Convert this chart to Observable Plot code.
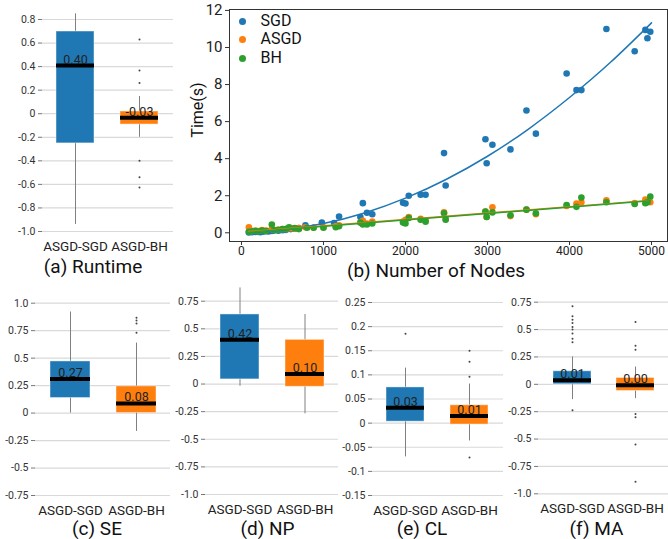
<!DOCTYPE html>
<html><head><meta charset="utf-8">
<script src="https://cdn.jsdelivr.net/npm/d3@7"></script>
<script src="https://cdn.jsdelivr.net/npm/@observablehq/plot@0.6"></script>
<style>
body{margin:0;background:#fff;}
#root{position:relative;width:668px;height:539px;overflow:hidden;font-family:Roboto,sans-serif;color:#222;}
.panel{position:absolute;}
.cap{position:absolute;transform:translate(-50%,-50%);font-size:19px;line-height:1;white-space:nowrap;color:#111;}
.ylab{position:absolute;transform:translate(-50%,-50%) rotate(-90deg);font-size:16px;line-height:1;white-space:nowrap;color:#111;}
.leg{position:absolute;font-size:16px;line-height:1;color:#111;display:flex;align-items:center;transform:translateY(-50%);}
.leg span.sw{display:inline-block;width:7px;height:7px;border-radius:50%;margin-right:15px;margin-left:-3.5px;}
</style></head><body><div id="root"></div><script>
const groups = ["ASGD-SGD","ASGD-BH"];
const boxColors = ["#1f77b4","#ff7f0e"];
// per group: [lower whisker, q1, median, q3, upper whisker]
const runtimeBox = [[-0.94,-0.252,0.409,0.698,0.848],[-0.2,-0.092,-0.035,0.019,0.146]];
const runtimeOutliers = [[],[0.63,0.367,0.26,-0.40,-0.54,-0.626]];
const runtimeLabels = ["0.40","-0.03"];
const runtimeTicks = [0.8,0.6,0.4,0.2,0,-0.2,-0.4,-0.6,-0.8,-1.0];

const seBox = [[0.0,0.137,0.31,0.47,0.92],[-0.167,0.0,0.088,0.243,0.637]];
const seOutliers = [[],[0.73,0.816,0.843,0.867]];
const seLabels = ["0.27","0.08"];
const seTicks = [1.0,0.75,0.5,0.25,0,-0.25,-0.5,-0.75];

const npBox = [[-0.02,0.042,0.40,0.63,0.87],[-0.27,-0.025,0.09,0.40,0.63]];
const npOutliers = [[],[]];
const npLabels = ["0.42","0.10"];
const npTicks = [0.75,0.5,0.25,0,-0.25,-0.5,-0.75,-1.0];

const clBox = [[-0.07,0.003,0.032,0.074,0.114],[-0.037,-0.003,0.015,0.037,0.081]];
const clOutliers = [[0.185],[0.15,0.127,0.096,-0.071]];
const clLabels = ["0.03","0.01"];
const clTicks = [0.25,0.2,0.15,0.1,0.05,0,-0.05,-0.1,-0.15];

const maBox = [[-0.14,0.0,0.037,0.119,0.25],[-0.131,-0.061,-0.009,0.058,0.158]];
const maOutliers = [[0.712,0.621,0.59,0.56,0.524,0.5,0.463,0.417,0.384,-0.237],[0.57,0.353,0.316,-0.27,-0.3,-0.55,-0.89]];
const maLabels = ["0.01","0.00"];
const maTicks = [0.75,0.5,0.25,0,-0.25,-0.5,-0.75,-1.0];

// scatter: [number of nodes, time (s)]
const sgdPoints = [[90,0.02],[130,0.03],[170,0.04],[200,0.05],[230,0.03],[260,0.06],[300,0.08],[330,0.07],[370,0.1],[400,0.12],[450,0.11],[500,0.14],[540,0.15],[600,0.2],[650,0.22],[700,0.25],[780,0.4],[980,0.55],[1130,0.52],[1190,0.88],[1450,0.85],[1480,1.6],[1530,1.08],[1595,1.0],[1970,1.62],[2000,1.58],[2040,2.0],[2185,2.05],[2245,2.05],[2470,4.3],[2490,2.55],[2975,5.05],[2990,3.75],[3060,4.75],[3280,4.5],[3475,6.6],[3590,5.35],[3965,8.6],[4085,7.7],[4145,7.7],[4450,11.0],[4795,9.8],[4925,10.95],[4950,10.5],[4985,10.85]];
const asgdPoints = [[90,0.3],[130,0.1],[170,0.12],[200,0.1],[250,0.15],[300,0.12],[370,0.2],[400,0.15],[450,0.18],[500,0.2],[550,0.2],[600,0.25],[650,0.22],[700,0.25],[780,0.3],[880,0.28],[1000,0.3],[1150,0.35],[1190,0.4],[1450,0.55],[1480,0.65],[1530,0.5],[1595,0.6],[1970,0.6],[2000,0.7],[2040,0.85],[2185,0.75],[2245,0.65],[2470,1.1],[2490,0.75],[2975,1.15],[2990,0.85],[3060,1.38],[3280,0.9],[3475,1.25],[3590,1.0],[3965,1.45],[4085,1.58],[4145,1.65],[4450,1.75],[4795,1.6],[4925,1.8],[4950,1.7],[4985,1.65]];
const bhPoints = [[90,0.05],[130,0.08],[170,0.1],[200,0.07],[250,0.12],[300,0.1],[370,0.45],[400,0.15],[450,0.15],[500,0.2],[550,0.22],[580,0.3],[650,0.25],[700,0.2],[800,0.27],[880,0.27],[1000,0.27],[1150,0.3],[1190,0.35],[1450,0.55],[1480,0.45],[1530,0.45],[1595,0.5],[1970,0.55],[2000,0.5],[2040,0.8],[2185,0.7],[2245,0.6],[2470,1.05],[2490,0.7],[2975,1.15],[2990,0.85],[3060,1.1],[3280,0.95],[3475,1.25],[3590,1.05],[3965,1.5],[4085,1.4],[4145,1.9],[4450,1.65],[4795,1.55],[4925,1.6],[4950,1.65],[4985,1.95]];
// SGD fitted curve
const sgdFit = [[90,0.03],[500,0.15],[1000,0.5],[1500,1.07],[2000,1.87],[2500,2.89],[3000,4.13],[3500,5.6],[4000,7.3],[4500,9.2],[5000,11.33]];
const nodeTicks = [0,1000,2000,3000,4000,5000];
const timeTicks = [0,2,4,6,8,10,12];
const seriesNames = ["SGD","ASGD","BH"];
const seriesColors = ["#1f77b4","#ff7f0e","#2ca02c"];

const root = document.getElementById("root");
const fmt = d => d === 0 ? "0" : Number.isInteger(d) ? d.toFixed(1) : String(d);

function boxPlot({box, outliers, labels, ticks, width, height, mt, mb, ml, mr, pad}) {
  const rows = groups.map((g,i)=>({g, lo:box[i][0], q1:box[i][1], med:box[i][2], q3:box[i][3], hi:box[i][4], label:labels[i], color:boxColors[i]}));
  const outs = groups.flatMap((g,i)=>outliers[i].map(v=>({g, v})));
  return Plot.plot({
    width, height, marginTop:mt, marginBottom:mb, marginLeft:ml, marginRight:mr,
    style:{fontFamily:"Roboto, sans-serif", background:"transparent", overflow:"visible"},
    x:{type:"band", domain:groups, paddingInner:0.4, paddingOuter:0.22, axis:null},
    y:{domain:[d3.min(ticks), d3.max(ticks)], axis:null},
    color:{type:"identity"},
    marks:[
      Plot.gridY(ticks, {stroke:"#d9d9d9", strokeOpacity:1, strokeWidth:1.2}),
      Plot.axisY(ticks, {tickSize:4, tickPadding:3, fontSize:10.5, tickFormat:fmt, stroke:"#777", fill:"#333", label:null}),
      Plot.axisX({tickSize:0, tickPadding:pad, fontSize:13.5, label:null, fill:"#222"}),
      Plot.ruleX(rows, {x:"g", y1:"lo", y2:"hi", stroke:"#808080", strokeWidth:1}),
      Plot.barY(rows, {x:"g", y1:"q1", y2:"q3", fill:"color", stroke:"white", strokeOpacity:0.45, strokeWidth:1}),
      Plot.tickY(rows, {x:"g", y:"med", stroke:"black", strokeWidth:4}),
      Plot.text(rows, {x:"g", y:"med", text:"label", lineAnchor:"bottom", dy:-2, fontSize:12.5, fill:"#222"}),
      Plot.dot(outs, {x:"g", y:"v", r:1, fill:"#444", stroke:null})
    ]
  });
}

function place(el, left, top) {
  el.classList.add("panel");
  el.style.left = left + "px"; el.style.top = top + "px";
  root.appendChild(el);
}
function caption(text, cx, cy, cls="cap", size) {
  const d = document.createElement("div");
  d.className = cls; d.textContent = text;
  d.style.left = cx + "px"; d.style.top = cy + "px";
  if (size) d.style.fontSize = size + "px";
  root.appendChild(d);
}

// (a)
place(boxPlot({box:runtimeBox, outliers:runtimeOutliers, labels:runtimeLabels, ticks:runtimeTicks,
  width:180, height:262, mt:19, mb:31, ml:42, mr:7, pad:10}), 0, 0);

// (b)
const toRows = pts => pts.map(([x,y])=>({x,y}));
const scatter = Plot.plot({
  width:488, height:280, marginTop:9, marginBottom:39, marginLeft:49, marginRight:1,
  style:{fontFamily:"Roboto, sans-serif", background:"transparent", overflow:"visible"},
  x:{domain:[-146,5195], axis:null},
  y:{domain:[-0.47,12.05], axis:null},
  marks:[
    Plot.frame({stroke:"#333", strokeWidth:1}),
    Plot.axisY(timeTicks, {tickSize:4, tickPadding:3, fontSize:15, label:null, fill:"#222", stroke:"#333"}),
    Plot.axisX(nodeTicks, {tickSize:4, tickPadding:1, fontSize:12, label:null, fill:"#222", stroke:"#333", tickFormat:d=>String(d)}),
    Plot.dot(toRows(sgdPoints), {x:"x", y:"y", r:3.3, fill:seriesColors[0], stroke:null}),
    Plot.dot(toRows(asgdPoints), {x:"x", y:"y", r:3.3, fill:seriesColors[1], stroke:null}),
    Plot.dot(toRows(bhPoints), {x:"x", y:"y", r:3.3, fill:seriesColors[2], stroke:null}),
    Plot.line(toRows(sgdFit), {x:"x", y:"y", stroke:seriesColors[0], strokeWidth:1.5, curve:"natural"}),
    Plot.linearRegressionY(toRows(asgdPoints), {x:"x", y:"y", stroke:seriesColors[1], strokeWidth:1.5, ci:0}),
    Plot.linearRegressionY(toRows(bhPoints), {x:"x", y:"y", stroke:seriesColors[2], strokeWidth:1.5, ci:0})
  ]
});
place(scatter, 180, 0);
caption("Time(s)", 198, 110, "ylab");
seriesNames.forEach((n,i)=>{
  const d = document.createElement("div");
  d.className = "leg";
  d.style.left = "242px"; d.style.top = [21,39,58][i] + "px";
  d.innerHTML = `<span class="sw" style="background:${seriesColors[i]}"></span>${n}`;
  root.appendChild(d);
});

// (c)-(f)
place(boxPlot({box:seBox, outliers:seOutliers, labels:seLabels, ticks:seTicks,
  width:170, height:259, mt:22.7, mb:44, ml:35, mr:0, pad:9.5}), 0, 280);
place(boxPlot({box:npBox, outliers:npOutliers, labels:npLabels, ticks:npTicks,
  width:168, height:259, mt:20.7, mb:45, ml:35, mr:0, pad:9.5}), 170, 280);
place(boxPlot({box:clBox, outliers:clOutliers, labels:clLabels, ticks:clTicks,
  width:167, height:259, mt:22, mb:44, ml:36, mr:0, pad:9.5}), 336, 280);
place(boxPlot({box:maBox, outliers:maOutliers, labels:maLabels, ticks:maTicks,
  width:166, height:259, mt:21.7, mb:45.7, ml:36, mr:0, pad:9.5}), 502, 280);

caption("(a) Runtime", 93, 266);
caption("(b) Number of Nodes", 436, 270, "cap", 19);
caption("(c) SE", 97, 528);
caption("(d) NP", 267.5, 528);
caption("(e) CL", 422, 528);
caption("(f) MA", 596.5, 528);
</script></body></html>
